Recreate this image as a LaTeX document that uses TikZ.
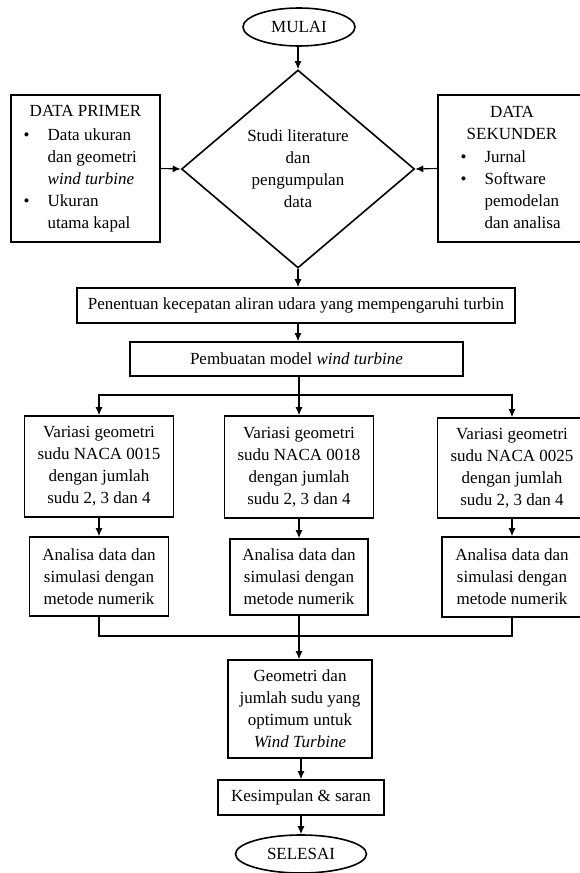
\documentclass[tikz,border=0pt]{standalone}
\usepackage{fontspec}
\setmainfont{Liberation Serif}
\usetikzlibrary{shapes.geometric,arrows.meta}
\begin{document}
\begin{tikzpicture}[x=1pt,y=-1pt,
  txt/.style={font=\fontsize{17}{22}\selectfont, align=center, inner sep=0pt},
  box/.style={txt, draw, line width=1.6pt, rectangle},
  term/.style={txt, draw, line width=1.6pt, ellipse},
  dia/.style={txt, draw, line width=1.6pt, diamond, minimum width=233pt, minimum height=198pt},
  conn/.style={line width=1.1pt},
  arr/.style={conn, -{Latex[length=8pt,width=7pt]}}]
\useasboundingbox (0,0) rectangle (580,873);

\node[term, minimum width=112pt, minimum height=38pt] (mulai) at (299,27) {MULAI};
\node[dia] (studi) at (298,169) {Studi literature\\dan\\pengumpulan\\data};

\node[box, minimum width=149pt, minimum height=147pt] (primer) at (85.5,168.5) {%
\begin{tabular}{@{}c@{\hspace{18pt}}l@{}}
\multicolumn{2}{c}{DATA PRIMER}\\[2pt]
\textbullet & Data ukuran\\
 & dan geometri\\
 & \textit{wind turbine}\\
\textbullet & Ukuran\\
 & utama kapal
\end{tabular}};

\node[box, minimum width=148pt, minimum height=147pt] (sekunder) at (512,168.5) {%
\begin{tabular}{@{}c@{\hspace{18pt}}l@{}}
\multicolumn{2}{c}{DATA}\\
\multicolumn{2}{c}{SEKUNDER}\\[1pt]
\textbullet & Jurnal\\
\textbullet & Software\\
 & pemodelan\\
 & dan analisa
\end{tabular}};

\node[box, minimum width=438pt, minimum height=35pt] (penentuan) at (296,305.5) {Penentuan kecepatan aliran udara yang mempengaruhi turbin};
\node[box, minimum width=333pt, minimum height=34pt] (pembuatan) at (296.5,359) {Pembuatan model \textit{wind turbine}};

\node[box, minimum width=149pt, minimum height=101pt] (v1) at (99,466.5) {Variasi geometri\\sudu NACA 0015\\dengan jumlah\\sudu 2, 3 dan 4};
\node[box, minimum width=149pt, minimum height=102pt] (v2) at (299,467) {Variasi geometri\\sudu NACA 0018\\dengan jumlah\\sudu 2, 3 dan 4};
\node[box, minimum width=149pt, minimum height=100pt] (v3) at (512,468) {Variasi geometri\\sudu NACA 0025\\dengan jumlah\\sudu 2, 3 dan 4};

\node[box, minimum width=139pt, minimum height=79pt] (a1) at (99,576.5) {Analisa data dan\\simulasi dengan\\metode numerik};
\node[box, minimum width=138pt, minimum height=76pt] (a2) at (299,577) {Analisa data dan\\simulasi dengan\\metode numerik};
\node[box, minimum width=140pt, minimum height=80pt] (a3) at (512,577) {Analisa data dan\\simulasi dengan\\metode numerik};

\node[box, minimum width=144pt, minimum height=98pt] (geo) at (300,709) {Geometri dan\\jumlah sudu yang\\optimum untuk\\\textit{Wind Turbine}};
\node[box, minimum width=166pt, minimum height=35pt] (kes) at (301,797.5) {Kesimpulan \& saran};
\node[term, minimum width=131pt, minimum height=38pt] (selesai) at (301,854) {SELESAI};

\coordinate (br) at (299,395);
\coordinate (mg) at (299,636);

\draw[arr] (studi.north |- mulai.south) -- (studi.north);
\draw[arr] (primer.east) -- (studi.west);
\draw[arr] (sekunder.west) -- (studi.east);
\draw[arr] (studi.south) -- (studi.south |- penentuan.north);
\draw[arr] (studi.south |- penentuan.south) -- (studi.south |- pembuatan.north);
\draw[conn] (br |- pembuatan.south) -- (br);
\draw[arr] (br) -| (v1.north);
\draw[arr] (br) -- (v2.north);
\draw[arr] (br) -| (v3.north);
\draw[arr] (v1.south) -- (a1.north);
\draw[arr] (v2.south) -- (a2.north);
\draw[arr] (v3.south) -- (a3.north);
\draw[conn] (a1.south) |- (a3.south |- mg) -- (a3.south);
\draw[arr] (a2.south) -- (a2.south |- geo.north);
\draw[arr] (kes.north |- geo.south) -- (kes.north);
\draw[arr] (selesai.north |- kes.south) -- (selesai.north);
\end{tikzpicture}
\end{document}
